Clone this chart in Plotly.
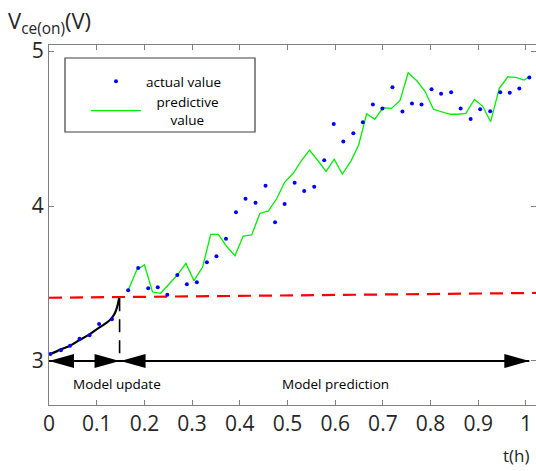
import plotly.graph_objects as go

# ---------------- data ----------------
# model-update phase: fitted curve
curve_t = [0.003, 0.025, 0.044, 0.064, 0.085, 0.105, 0.121, 0.131, 0.138, 0.143, 0.147]
curve_v = [3.045, 3.075, 3.099, 3.135, 3.172, 3.215, 3.247, 3.275, 3.308, 3.350, 3.405]

# actual values (blue dots)
actual_t = [0.003, 0.025, 0.044, 0.064, 0.085, 0.105, 0.132,
            0.166, 0.187, 0.208, 0.228, 0.248, 0.269, 0.289, 0.310, 0.331, 0.351,
            0.371, 0.392, 0.412, 0.433, 0.454, 0.474, 0.494, 0.515, 0.535, 0.556,
            0.577, 0.597, 0.617, 0.638, 0.658, 0.679, 0.699, 0.720, 0.741, 0.761,
            0.781, 0.802, 0.822, 0.843, 0.863, 0.884, 0.904, 0.925, 0.946, 0.966,
            0.986, 1.007]
actual_v = [3.045, 3.069, 3.099, 3.144, 3.166, 3.239, 3.269,
            3.456, 3.600, 3.469, 3.476, 3.428, 3.555, 3.495, 3.508, 3.637, 3.676,
            3.788, 3.959, 4.047, 4.021, 4.131, 3.895, 4.013, 4.150, 4.097, 4.125,
            4.295, 4.529, 4.417, 4.470, 4.540, 4.655, 4.630, 4.766, 4.610, 4.661,
            4.655, 4.754, 4.725, 4.734, 4.630, 4.561, 4.624, 4.611, 4.734, 4.731,
            4.759, 4.830]

# predictive values (green line)
pred_t = [0.166, 0.184, 0.200, 0.217, 0.234, 0.252, 0.270, 0.287, 0.304, 0.322,
          0.339, 0.355, 0.373, 0.390, 0.407, 0.425, 0.442, 0.460, 0.477, 0.494,
          0.512, 0.529, 0.546, 0.564, 0.581, 0.598, 0.615, 0.633, 0.649, 0.666,
          0.683, 0.700, 0.718, 0.736, 0.753, 0.771, 0.788, 0.806, 0.823, 0.841,
          0.858, 0.874, 0.892, 0.909, 0.926, 0.944, 0.962, 0.979, 0.996, 1.010]
pred_v = [3.456, 3.587, 3.621, 3.446, 3.437, 3.495, 3.558, 3.630, 3.518, 3.606,
          3.817, 3.817, 3.737, 3.679, 3.806, 3.813, 3.952, 3.969, 4.045, 4.153,
          4.211, 4.292, 4.361, 4.292, 4.223, 4.302, 4.206, 4.290, 4.392, 4.595,
          4.559, 4.634, 4.630, 4.681, 4.860, 4.808, 4.742, 4.624, 4.608, 4.592,
          4.592, 4.598, 4.688, 4.645, 4.544, 4.759, 4.834, 4.830, 4.813, 4.839]

# threshold (red dashed)
thr_t = [0.0, 1.021]
thr_v = [3.408, 3.439]

# phase boundaries
t_start = 0.0
t_switch = 0.148
t_end = 1.007
arrow_v = 3.0
boundary_top = 3.405

x_ticks = [0, 0.1, 0.2, 0.3, 0.4, 0.5, 0.6, 0.7, 0.8, 0.9, 1]
x_tick_text = ["0", "0.1", "0.2", "0.3", "0.4", "0.5", "0.6", "0.7", "0.8", "0.9", "1"]
y_ticks = [3, 4, 5]

# ---------------- figure ----------------
W, H = 536, 471
ML, MR, MT, MB = 49, 0, 45, 66
X_RANGE = [0, 1.021]
Y_RANGE = [2.716, 5.039]
FONT = "Open Sans"
TXT = "#262626"
AX = "#808080"

fig = go.Figure()

fig.add_trace(go.Scatter(x=thr_t, y=thr_v, mode="lines",
                         line=dict(color="#ff0000", width=2.2, dash="13px,8px"),
                         showlegend=False, hoverinfo="skip"))
fig.add_trace(go.Scatter(x=[t_switch, t_switch], y=[boundary_top, arrow_v], mode="lines",
                         line=dict(color="black", width=1.6, dash="13px,8px"),
                         showlegend=False, hoverinfo="skip"))
fig.add_trace(go.Scatter(x=curve_t, y=curve_v, mode="lines",
                         line=dict(color="black", width=2.2, shape="spline"),
                         showlegend=False))
fig.add_trace(go.Scatter(x=pred_t, y=pred_v, mode="lines",
                         line=dict(color="#00ee00", width=1.3),
                         name="&nbsp;&nbsp;&nbsp;predictive<br>&nbsp;&nbsp;&nbsp;&nbsp;&nbsp;&nbsp;&nbsp;value"))
fig.add_trace(go.Scatter(x=actual_t, y=actual_v, mode="markers",
                         marker=dict(color="#0000ff", size=4),
                         name="actual value"))

# arrows (line + triangular heads), computed from the phase boundaries
px_x = (X_RANGE[1] - X_RANGE[0]) / (W - ML - MR)
px_y = (Y_RANGE[1] - Y_RANGE[0]) / (H - MT - MB)
head_len = 25 * px_x
head_half = 7 * px_y
shapes = [dict(type="line", xref="x", yref="y", x0=t_start, x1=t_end, y0=arrow_v, y1=arrow_v,
               line=dict(color="black", width=1.8))]
for tip, direction in [(t_start, 1), (t_switch, -1), (t_switch + 0.002, 1), (t_end, -1)]:
    base = tip + direction * head_len
    path = (f"M{tip},{arrow_v} L{base},{arrow_v + head_half} "
            f"L{base},{arrow_v - head_half} Z")
    shapes.append(dict(type="path", xref="x", yref="y", path=path,
                       fillcolor="black", line=dict(color="black", width=0)))
# legend frame
shapes.append(dict(type="rect", xref="paper", yref="paper",
                   x0=(65 - ML) / (W - ML - MR), x1=(255 - ML) / (W - ML - MR),
                   y0=(H - MB - 132) / (H - MT - MB), y1=(H - MB - 58) / (H - MT - MB),
                   line=dict(color="#404040", width=1.2), fillcolor="rgba(0,0,0,0)"))

annotations = [
    dict(x=0.142, y=2.852, xref="x", yref="y", text="Model update", showarrow=False,
         font=dict(family=FONT, size=13.5, color="black")),
    dict(x=0.600, y=2.852, xref="x", yref="y", text="Model prediction", showarrow=False,
         font=dict(family=FONT, size=13.5, color="black")),
    dict(x=(6 - ML) / (W - ML - MR), y=(H - MB - 22) / (H - MT - MB), xref="paper", yref="paper",
         xanchor="left", yanchor="middle", text="V<sub>ce(on)</sub>(V)", showarrow=False,
         font=dict(family=FONT, size=22, color=TXT)),
    dict(x=(532 - ML) / (W - ML - MR), y=(H - MB - 455) / (H - MT - MB), xref="paper", yref="paper",
         xanchor="right", yanchor="middle", text="t(h)", showarrow=False,
         font=dict(family=FONT, size=17, color=TXT)),
]

fig.update_layout(
    width=W, height=H,
    margin=dict(l=ML, r=MR, t=MT, b=MB, pad=0),
    paper_bgcolor="white", plot_bgcolor="white",
    shapes=shapes, annotations=annotations,
    legend=dict(x=(86 - ML) / (W - ML - MR), y=(H - MB - 66) / (H - MT - MB),
                xanchor="left", yanchor="top", bgcolor="rgba(0,0,0,0)", borderwidth=0,
                font=dict(family=FONT, size=13.5, color="black"), traceorder="reversed",
                itemwidth=50, tracegroupgap=1),
    xaxis=dict(range=X_RANGE, tickvals=x_ticks, ticktext=x_tick_text, showgrid=False, zeroline=False,
               showline=True, linecolor=AX, linewidth=1, mirror="ticks",
               ticks="inside", ticklen=5, tickcolor=AX,
               tickfont=dict(family=FONT, size=21, color=TXT)),
    yaxis=dict(range=Y_RANGE, tickvals=y_ticks, showgrid=False, zeroline=False,
               showline=True, linecolor=AX, linewidth=1, mirror="ticks",
               ticks="inside", ticklen=5, tickcolor=AX,
               tickfont=dict(family=FONT, size=21, color=TXT)),
)

fig.write_html("out.html")
